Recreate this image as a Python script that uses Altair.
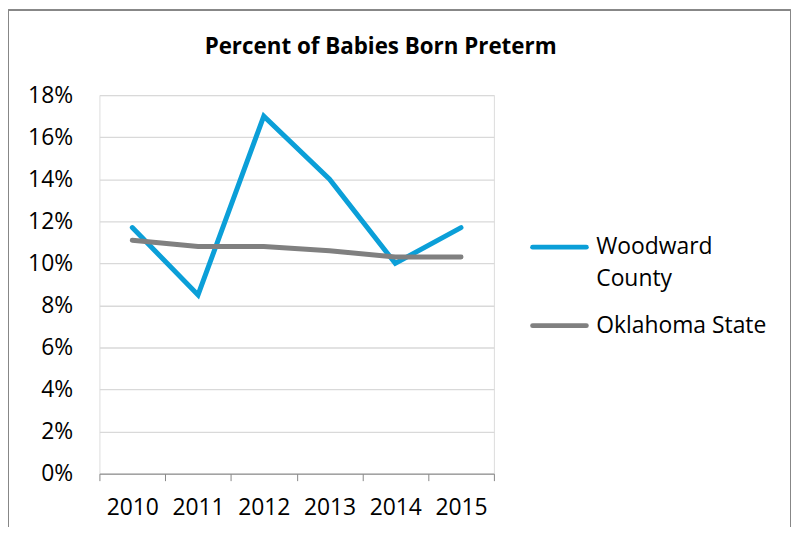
import altair as alt
import pandas as pd

years = ["2010", "2011", "2012", "2013", "2014", "2015"]
woodward = [0.117, 0.085, 0.170, 0.140, 0.100, 0.117]
oklahoma = [0.111, 0.108, 0.108, 0.106, 0.103, 0.103]
series = ["Woodward County", "Oklahoma State"]
legend_labels = ["Woodward\nCounty", "Oklahoma State"]
colors = ["#0B9FD8", "#808080"]
y_ticks = [0, 0.02, 0.04, 0.06, 0.08, 0.10, 0.12, 0.14, 0.16, 0.18]
title_text = "Percent of Babies Born Preterm"

rows = []
for name, vals in zip(series, [woodward, oklahoma]):
    for yr, v in zip(years, vals):
        rows.append({"Year": yr, "Value": v, "Series": name})
df = pd.DataFrame(rows)

FONT = "Open Sans"
FS = 23
W, H = 397, 381

color_scale = alt.Scale(domain=series, range=colors)

lines = alt.Chart(df).mark_line(strokeWidth=5, strokeCap="round", strokeJoin="miter").encode(
    x=alt.X(
        "Year:N",
        sort=years,
        bandPosition=0.5,
        scale=alt.Scale(type="band", paddingInner=0, paddingOuter=0),
        axis=alt.Axis(
            title=None, labelAngle=0, labelFontSize=FS, labelColor="#000000",
            labelFont=FONT, domainColor="#878787", tickColor="#878787",
            tickSize=7, tickBand="extent", labelPadding=16, grid=False,
        ),
    ),
    y=alt.Y(
        "Value:Q",
        scale=alt.Scale(domain=[0, 0.18], nice=False),
        axis=alt.Axis(
            title=None, values=y_ticks, format=".0%", labelFontSize=FS,
            labelColor="#000000", labelFont=FONT, domain=False, ticks=False,
            labelPadding=27, gridColor="#D9D9D9", gridWidth=1.3,
        ),
    ),
    color=alt.Color("Series:N", sort=series, scale=color_scale, legend=None),
)

frame = alt.Chart(df).mark_rect(fill=None, stroke="#878787", strokeWidth=1).encode(
    x=alt.value(-91.5), x2=alt.value(695.5), y=alt.value(-85.5), y2=alt.value(H + 80)
)

title = alt.Chart(pd.DataFrame({"t": [title_text]})).mark_text(
    font=FONT, fontSize=22.5, fontWeight="bold", color="#000000",
    align="center", baseline="alphabetic",
).encode(text="t:N", x=alt.value(283), y=alt.value(-41))

# manual legend (one entry per series)
legend_parts = []
legend_y = [153, 232]
for name, lab, col, ly in zip(series, legend_labels, colors, legend_y):
    d = pd.DataFrame({"Series": [name], "Label": [lab]})
    sym = alt.Chart(d).mark_rule(strokeWidth=5, strokeCap="round", color=col).encode(
        x=alt.value(436), x2=alt.value(490), y=alt.value(ly)
    )
    txt = alt.Chart(d).mark_text(
        font=FONT, fontSize=FS, color="#000000", align="left", baseline="middle",
        lineBreak="\n", lineHeight=32,
    ).encode(text="Label:N", x=alt.value(500), y=alt.value(ly))
    legend_parts += [sym, txt]

chart = alt.layer(frame, lines, title, *legend_parts).properties(
    width=W, height=H,
    autosize=alt.AutoSizeParams(type="none"),
    padding={"left": 92, "top": 86, "right": 299, "bottom": 52},
).configure_view(stroke=None).configure(background="white")

chart.save("out.html", embed_options={"renderer": "svg", "actions": False})
